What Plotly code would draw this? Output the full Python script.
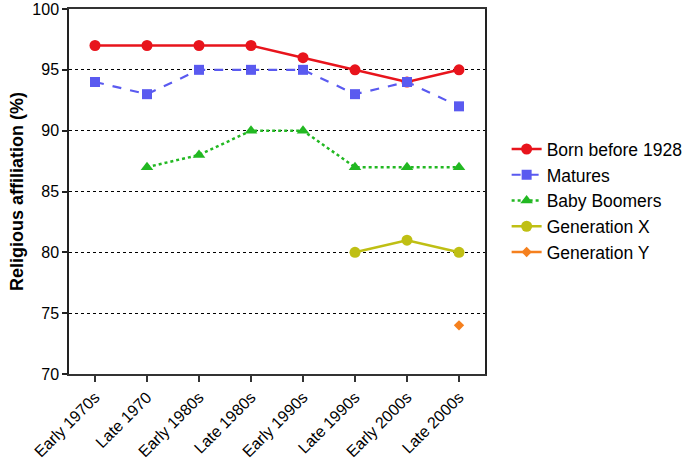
import plotly.graph_objects as go

categories = ["Early 1970s", "Late 1970", "Early 1980s", "Late 1980s",
              "Early 1990s", "Late 1990s", "Early 2000s", "Late 2000s"]
born_before_1928 = [97, 97, 97, 97, 96, 95, 94, 95]
matures = [94, 93, 95, 95, 95, 93, 94, 92]
baby_boomers = [None, 87, 88, 90, 90, 87, 87, 87]
generation_x = [None, None, None, None, None, 80, 81, 80]
generation_y = [None, None, None, None, None, None, None, 74]
y_ticks = [70, 75, 80, 85, 90, 95, 100]

x = list(range(len(categories)))

fig = go.Figure()
fig.add_trace(go.Scatter(x=x, y=born_before_1928, name="Born before 1928", mode="lines+markers",
                         line=dict(color="#e8141c", width=2.5),
                         marker=dict(symbol="circle", size=11, color="#e8141c")))
fig.add_trace(go.Scatter(x=x, y=matures, name="Matures", mode="lines+markers",
                         line=dict(color="#5a5af0", width=2.2, dash="dash"),
                         marker=dict(symbol="square", size=10, color="#5a5af0")))
fig.add_trace(go.Scatter(x=x, y=baby_boomers, name="Baby Boomers", mode="lines+markers",
                         line=dict(color="#22b822", width=2.5, dash="dot"),
                         marker=dict(symbol="triangle-up", size=11, color="#22b822")))
fig.add_trace(go.Scatter(x=x, y=generation_x, name="Generation X", mode="lines+markers",
                         line=dict(color="#bfbf14", width=2.5),
                         marker=dict(symbol="circle", size=11, color="#bfbf14")))
fig.add_trace(go.Scatter(x=x, y=generation_y, name="Generation Y", mode="lines+markers",
                         line=dict(color="#f5801e", width=2.5),
                         marker=dict(symbol="diamond", size=8, color="#f5801e")))

fig.update_layout(
    width=690, height=461,
    margin=dict(l=69, r=205, t=9, b=87, autoexpand=False),
    paper_bgcolor="white", plot_bgcolor="white",
    font=dict(family="Arial, Liberation Sans, sans-serif", size=16, color="black"),
    legend=dict(x=1.052, y=0.475, xanchor="left", yanchor="middle",
                font=dict(size=17.5), bgcolor="rgba(0,0,0,0)"),
    showlegend=True,
)
fig.update_xaxes(
    range=[-0.5, 7.5], tickmode="array", tickvals=x, ticktext=categories,
    tickangle=-45, tickfont=dict(size=16), showgrid=False, zeroline=False,
    showline=True, linecolor="#333", linewidth=1.5, mirror=True, automargin=False,
    ticklabeloverflow="allow",
    ticks="outside", ticklen=6, tickcolor="#333", tickwidth=1.5,
)
fig.update_yaxes(
    range=[70, 100], tickmode="array", tickvals=y_ticks,
    tickfont=dict(size=16), showgrid=True, gridcolor="black", griddash="dot", gridwidth=1,
    zeroline=False, showline=True, linecolor="#222", linewidth=1.5, mirror=True, automargin=False,
    ticklabeloverflow="allow",
    ticks="outside", ticklen=5, tickcolor="#222", tickwidth=1.5,
    title=dict(text="<b>Religious affiliation (%)</b>", font=dict(size=18), standoff=4),
)

fig.write_html("out.html", config={"displayModeBar": False},
               post_script="document.body.style.margin='0';")
